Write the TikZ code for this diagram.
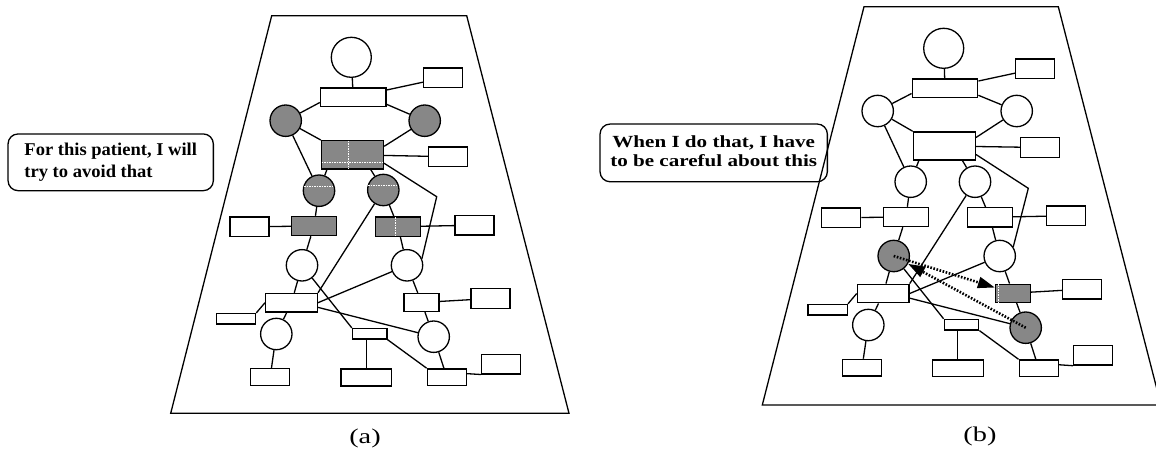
\documentclass[tikz,border=0pt]{standalone}
\usepackage{fontspec}
\setmainfont{Liberation Serif}
\usepackage{graphicx}
\usetikzlibrary{arrows.meta}
\usetikzlibrary{calc}
\definecolor{halftone}{RGB}{135,135,135}
\tikzset{wire/.style = {line width=1.3pt}}
\tikzset{frame/.style = {line width=1.3pt, line join=miter}}
\tikzset{ring/.style = {draw, circle, line width=1.3pt, inner sep=0, minimum size=31.4}}
\tikzset{headring/.style = {ring, minimum size=40}}
\tikzset{box/.style = {draw, rectangle, line width=1.3pt, inner sep=0}}
\tikzset{hubbox/.style = {box, minimum width=65.5, minimum height=18.7}}
\tikzset{corebox/.style = {box, minimum width=62, minimum height=28.2}}
\tikzset{notebox/.style = {box, minimum width=39, minimum height=19.7}}
\tikzset{pairbox/.style = {box, minimum width=44.7, minimum height=19.2}}
\tikzset{linkbox/.style = {box, minimum width=51.7, minimum height=18.5}}
\tikzset{slimbox/.style = {box, minimum width=39.3, minimum height=10.5}}
\tikzset{stubbox/.style = {box, minimum width=35, minimum height=18}}
\tikzset{tagbox/.style = {box, minimum width=34.5, minimum height=10.5}}
\tikzset{footbox/.style = {box, minimum width=39, minimum height=16.7}}
\tikzset{plinthbox/.style = {box, minimum width=50.7, minimum height=16.8}}
\tikzset{shaded/.style = {fill=halftone}}
\tikzset{seam/.style = {white, line width=0.9pt, dash pattern=on 1.5pt off 1pt, shorten <=0.8pt, shorten >=0.8pt}}
\tikzset{hint/.style = {line width=2.6pt, dash pattern=on 1.6pt off 1.6pt, -{Triangle[length=17pt, width=11pt]}}}
\tikzset{callout/.style = {draw, line width=1.3pt, rounded corners=10, inner sep=0, font=\bfseries}}

\begin{document}
\begin{tikzpicture}[x=1pt, y=-1pt]
    \useasboundingbox (0,0) rectangle (1156,455);

    % the two frames
    \draw[frame] (271.7,15.7) -- (466.7,15.7) -- (569,413.3) -- (170.7,413.3) -- cycle;
    \draw[frame] (864,6.7) -- (1058.3,6.7) -- (1161,405) -- (762.3,405) -- cycle;

    % left network
    \node[headring] (a-head) at (351.3,57.3) {};
    \node[hubbox] (a-top) at (353.2,97.2) {};
    \node[notebox] (a-topnote) at (443.3,77.8) {};
    \node[ring, shaded] (a-L1) at (285.7,120.7) {};
    \node[ring, shaded] (a-R1) at (424.7,120.7) {};
    \node[corebox, shaded] (a-core) at (352.5,154.8) {};
    \node[notebox] (a-corenote) at (448.2,156.7) {};
    \node[ring, shaded] (a-L2) at (319,190.7) {};
    \node[ring, shaded] (a-R2) at (383.3,190) {};
    \node[notebox] (a-L3note) at (249.5,226.8) {};
    \node[pairbox, shaded] (a-L3box) at (314,226) {};
    \node[pairbox, shaded] (a-R3box) at (398,226.7) {};
    \node[notebox] (a-R3note) at (474.5,225.2) {};
    \node[ring] (a-L4) at (302,265.3) {};
    \node[ring] (a-R4) at (407,265.3) {};
    \node[linkbox] (a-L5box) at (291.5,302.7) {};
    \node[slimbox] (a-L5note) at (236,318.8) {};
    \node[stubbox] (a-R5box) at (421.5,302.5) {};
    \node[notebox] (a-R5note) at (490.5,298.5) {};
    \node[ring] (a-L6) at (276.3,334) {};
    \node[ring] (a-R6) at (433.7,336.7) {};
    \node[tagbox] (a-mid) at (369.7,333.8) {};
    \node[footbox] (a-L7) at (270.2,377) {};
    \node[plinthbox] (a-M7) at (366.2,377.5) {};
    \node[footbox] (a-R7) at (446.8,377.2) {};
    \node[notebox] (a-R7note) at (501,364) {};
    \coordinate (a-kink) at (436.7,196.7);

    % right network
    \node[headring] (b-head) at (943.7,48.3) {};
    \node[hubbox] (b-top) at (945,88.2) {};
    \node[notebox] (b-topnote) at (1035.3,68.8) {};
    \node[ring] (b-L1) at (877.7,111) {};
    \node[ring] (b-R1) at (1016.7,111) {};
    \node[corebox] (b-core) at (944.3,146) {};
    \node[notebox] (b-corenote) at (1040,147.5) {};
    \node[ring] (b-L2) at (910.7,181.7) {};
    \node[ring] (b-R2) at (975,181.7) {};
    \node[notebox] (b-L3note) at (841.3,217.7) {};
    \node[pairbox] (b-L3box) at (906,217) {};
    \node[pairbox] (b-R3box) at (989.8,217.3) {};
    \node[notebox] (b-R3note) at (1066.2,215.8) {};
    \node[ring, shaded] (b-L4) at (893.7,256) {};
    \node[ring] (b-R4) at (999.7,256) {};
    \node[linkbox] (b-L5box) at (883.2,293.5) {};
    \node[slimbox] (b-L5note) at (827.7,309.7) {};
    \node[stubbox, shaded] (b-R5box) at (1013,293.2) {};
    \node[notebox] (b-R5note) at (1082.2,289.2) {};
    \node[ring] (b-L6) at (868.3,325) {};
    \node[ring, shaded] (b-R6) at (1025.7,327.7) {};
    \node[tagbox] (b-mid) at (961.5,324.7) {};
    \node[footbox] (b-L7) at (862,367.7) {};
    \node[plinthbox] (b-M7) at (957.8,368.3) {};
    \node[footbox] (b-R7) at (1038.7,368.3) {};
    \node[notebox] (b-R7note) at (1093,355.2) {};
    \coordinate (b-kink) at (1028.3,188.3);

    % same wiring in both
    \foreach \p/\q in {a/24, b/34} {
        \foreach \u/\v in {head/top, top/topnote, top.189/L1, top.348/R1,
                L1/core.north west, R1/core.15, core/corenote, L1/L2,
                core.210/L2, core.321/R2, L2/L3box, R2/R3box,
                R2/L5box.north east, L3note/L3box, R3box/R3note,
                L3box/L4, R3box/R4, L4/L5box, L4/mid.north west,
                R4/L5box.east, R4/R5box, R5box/R5note, L5box.350/R6,
                L5box.west/L5note.north east, L5box/L6, R5box/R6, L6/L7,
                mid.south east/R7.north west, R6/R7, R7.10/R7note.south west} {
            \draw[wire] (\p-\u) -- (\p-\v);
        }
        \draw[wire] (\p-M7.north) -- (\p-M7.north |- \p-mid.south);
        \draw[wire] (\p-core.345) -- (\p-kink) -- (\p-R4.\q);
    }

    % white seams on the marked parts
    \draw[seam] ($(a-core.north)+(-4.2,0)$) -- ($(a-core.south)+(-4.2,0)$);
    \draw[seam] ($(a-core.west)+(0,7.2)$) -- ($(a-core.east)+(0,7.2)$);
    \draw[seam] (a-L2.165) -- (a-L2.15);
    \draw[seam] (a-R2.165) -- (a-R2.15);
    \draw[seam] ($(a-R3box.north)+(-2.3,0)$) -- ($(a-R3box.south)+(-2.3,0)$);
    \draw[seam] ($(b-R5box.north west)+(3.6,0)$) -- ($(b-R5box.south west)+(3.6,0)$);

    % dotted hints
    \draw[hint] (b-L4.center) -- (b-R5box);
    \draw[hint] (b-R6.center) -- (b-L4);

    % speech boxes
    \node[callout, minimum width=205.3, minimum height=56.7] (a-say) at (110.7,162.3)
        {\fontsize{18}{21.7}\selectfont\scalebox{1.03}[1]{\begin{tabular}{@{}l@{}}For this patient, I will\\try to avoid that\end{tabular}}};
    \node[callout, minimum width=227.3, minimum height=57.7] (b-say) at (713.7,152.9)
        {\fontsize{17}{19}\selectfont\scalebox{1.24}[1]{\begin{tabular}{@{}c@{}}When I do that, I have\\to be careful about this\end{tabular}}};

    % captions
    \node[font=\fontsize{21}{24}\selectfont] (a-cap) at (365,438) {\scalebox{1.35}[1]{(a)}};
    \node[font=\fontsize{21}{24}\selectfont] (b-cap) at (980,436) {\scalebox{1.35}[1]{(b)}};
\end{tikzpicture}
\end{document}
